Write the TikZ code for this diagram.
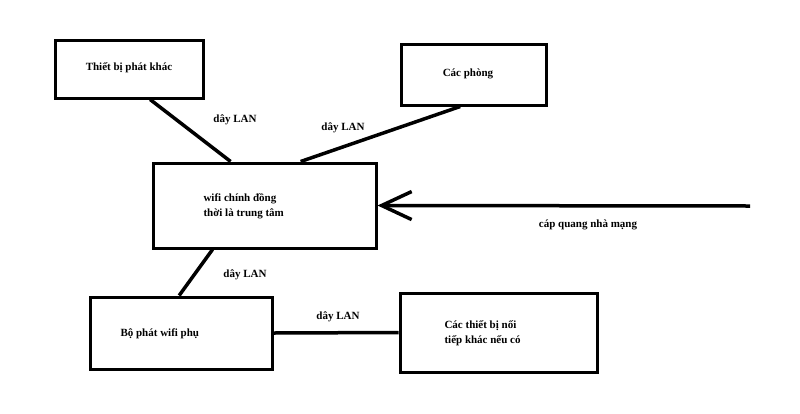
\documentclass[tikz,border=0pt]{standalone}
\usepackage{fontspec}
\setmainfont{Liberation Serif}
\usepackage{tikz}
\usetikzlibrary{positioning,calc,arrows.meta}
\tikzstyle{hop}= [draw, line width=3pt, inner sep=0pt]
\tikzstyle{day}= [line width=3.5pt]
\tikzstyle{chu}= [font=\bfseries\fontsize{11}{15}\selectfont, align=left]
\begin{document}
\begin{tikzpicture}[x=1pt,y=-1pt]
\useasboundingbox (0,0) rectangle (800,413);
\node[hop, minimum width=148pt, minimum height=58pt] (khac) at (129,69) {};
\node[hop, minimum width=145pt, minimum height=61pt] (phong) at (473.5,74.5) {};
\node[hop, minimum width=223pt, minimum height=85pt] (chinh) at (264.5,205.5) {};
\node[hop, minimum width=182pt, minimum height=72pt] (phu) at (181,333) {};
\node[hop, minimum width=197pt, minimum height=79pt] (noi) at (498.5,332.5) {};
\coordinate (nhamang) at (750,206);
\node[chu] (t1) at (129,68) {Thiết bị phát khác};
\node[chu] (t2) at (468,74) {Các phòng};
\node[chu, anchor=west] (t3) at (200,206) {wifi chính đồng\\thời là trung tâm};
\node[chu, anchor=west] (t4) at (117,334) {Bộ phát wifi phụ};
\node[chu, anchor=west] (t5) at (441,333) {Các thiết bị nối\\ tiếp khác nếu có};
\node[chu] (l1) at (235,120) {dây LAN};
\node[chu] (l2) at (343,128) {dây LAN};
\node[chu] (l3) at (245,275) {dây LAN};
\node[chu] (l4) at (338,317) {dây LAN};
\node[chu] (l5) at (588,225) {cáp quang nhà mạng};
\draw[day] ($(khac.south west)!0.64!(khac.south east)$) -- ($(chinh.north west)!0.35!(chinh.north east)$);
\draw[day] ($(phong.south west)!0.41!(phong.south east)$) -- ($(chinh.north west)!0.66!(chinh.north east)$);
\draw[day] ($(chinh.south west)!0.27!(chinh.south east)$) -- ($(phu.north west)!0.49!(phu.north east)$);
\draw[day] (phu.east) -- (noi.west);
\draw[day, -{Straight Barb[length=30pt,width=28pt,line width=3.5pt]}] (nhamang) -- (chinh.east);
\end{tikzpicture}
\end{document}
